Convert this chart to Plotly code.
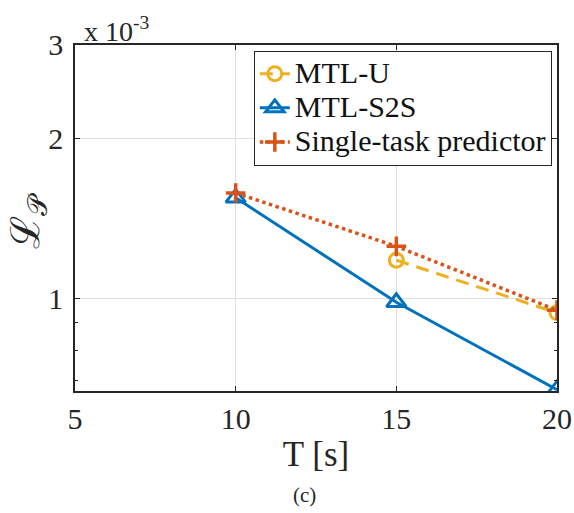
import plotly.graph_objects as go

# Prediction loss versus horizon length T
horizon = [10, 15, 20]
mtl_u_x = [15, 20]
mtl_u = [1.181e-3, 0.940e-3]
mtl_s2s = [1.547e-3, 0.984e-3, 0.674e-3]
single_task = [1.580e-3, 1.254e-3, 0.951e-3]
series_names = ["MTL-U", "MTL-S2S", "Single-task predictor"]

x_ticks = [5, 10, 15, 20]
y_ticks = [1e-3, 2e-3, 3e-3]
y_tick_text = ["1", "2", "3"]
y_minor = [0.7e-3, 0.8e-3, 0.9e-3]

SERIF = "Liberation Serif, Times New Roman, serif"
AX = "#262626"


def legend_label(text):
    # legend rows are spaced from legend.font.size; the label itself is drawn larger
    return f"<span style='font-size:30px'>{text}</span>"


fig = go.Figure()
fig.add_trace(go.Scatter(
    x=mtl_u_x, y=mtl_u, name=legend_label(series_names[0]), mode="lines+markers",
    line=dict(color="#EDB120", width=3, dash="13px,8px"),
    marker=dict(symbol="circle-open", size=14, color="#EDB120",
                line=dict(width=3, color="#EDB120"))))
fig.add_trace(go.Scatter(
    x=horizon, y=mtl_s2s, name=legend_label(series_names[1]), mode="lines+markers",
    line=dict(color="#0072BD", width=3),
    marker=dict(symbol="triangle-up-open", size=17, color="#0072BD",
                line=dict(width=3, color="#0072BD"))))
fig.add_trace(go.Scatter(
    x=horizon, y=single_task, name=legend_label(series_names[2]), mode="lines+markers",
    line=dict(color="#D95319", width=3.5, dash="dot"),
    marker=dict(symbol="cross-thin", size=14, color="#D95319",
                line=dict(width=3.5, color="#D95319"))))

fig.update_layout(
    template="none",
    width=574, height=513,
    margin=dict(l=75, r=17, t=45, b=121.5),
    paper_bgcolor="white", plot_bgcolor="white",
    font=dict(family=SERIF, size=30, color=AX),
    showlegend=True,
    legend=dict(x=0.371, y=0.984, xanchor="left", yanchor="top",
                bgcolor="white", bordercolor=AX, borderwidth=1,
                font=dict(family=SERIF, size=24, color="#111111"),
                itemwidth=30, tracegroupgap=0),
    xaxis=dict(range=[5, 20], tickvals=x_ticks, ticks="inside", ticklen=5,
               tickcolor=AX, showline=True, linecolor=AX, linewidth=1.5,
               mirror="ticks", showgrid=True, gridcolor="#dedede", gridwidth=1,
               zeroline=False, automargin=False,
               tickfont=dict(family=SERIF, size=30),
               title=dict(text="T [s]", font=dict(family=SERIF, size=35), standoff=8)),
    yaxis=dict(type="log", range=[-3.1739, -2.5229], tickvals=y_ticks,
               ticktext=y_tick_text, ticks="inside", ticklen=5, tickcolor=AX,
               showline=True, linecolor=AX, linewidth=1.5, mirror="ticks",
               showgrid=True, gridcolor="#dedede", gridwidth=1, zeroline=False,
               automargin=False,
               tickfont=dict(family=SERIF, size=30), ticklabelstandoff=4,
               minor=dict(tickvals=y_minor, ticks="inside", ticklen=3,
                          tickcolor=AX, showgrid=False)),
)

# Exponent note above the y axis
fig.add_annotation(xref="paper", yref="paper", x=0.015, y=1.0, xanchor="left",
                   yanchor="bottom", showarrow=False, yshift=-4,
                   text="x 10<sup>-3</sup>", font=dict(family=SERIF, size=28, color=AX))
# y-axis label
fig.add_annotation(xref="paper", yref="paper", x=-0.1, y=0.5, xanchor="center",
                   yanchor="middle", showarrow=False, textangle=-90, xshift=1, yshift=-2,
                   text="ℒ<sub>𝒫</sub>", font=dict(family="DejaVu Serif", size=40, color=AX))
# Panel caption
fig.add_annotation(xref="paper", yref="paper", x=0.477, y=0, xanchor="center",
                   yanchor="middle", showarrow=False, yshift=-104,
                   text="(c)", font=dict(family=SERIF, size=21, color=AX))

fig.write_html("out.html")
